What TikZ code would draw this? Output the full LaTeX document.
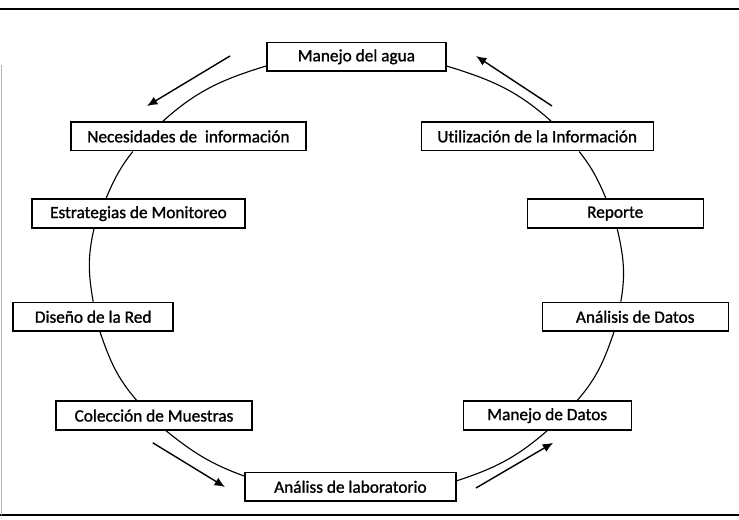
\documentclass[tikz,border=0pt]{standalone}
\usepackage{fontspec}
\setmainfont{Carlito}
\newfontfamily\boxfont[FakeBold=1.2,Ligatures=NoCommon]{Carlito}
\usetikzlibrary{arrows.meta}

\begin{document}
\begin{tikzpicture}[box/.style={draw, line width=1pt, minimum height=.72cm, inner sep=0pt, fill=white, font=\boxfont\fontsize{12.3}{14}\selectfont},
  cyc/.style={line width=.8pt}, flow/.style={line width=1pt, -{Latex[length=2.6mm,width=2.2mm]}}]
\useasboundingbox (0,0) rectangle (18.475,13);
\draw[line width=.8pt] (0,12.775)--(18.475,12.775);
\draw[line width=.8pt] (0,.125)--(18.475,.125);
\draw[gray!60] (.03,11.375)--(.03,.125);
\node[box, minimum width=4.475cm] (agua) at (8.91,11.58) {Manejo del agua};
\node[box, minimum width=5.875cm] (nec) at (4.71,9.59) {Necesidades de \ informaci\'on};
\node[box, minimum width=5.8cm] (util) at (13.43,9.59) {Utilizaci\'on de la Informaci\'on};
\node[box, minimum width=5.33cm] (est) at (3.46,7.66) {Estrategias de Monitoreo};
\node[box, minimum width=4.4cm] (rep) at (15.38,7.66) {Reporte};
\node[box, minimum width=4cm] (dis) at (2.33,5.08) {Dise\~no de la Red};
\node[box, minimum width=4.65cm] (anal) at (15.88,5.08) {An\'alisis de Datos};
\node[box, minimum width=4.9cm] (col) at (3.85,2.61) {Colecci\'on de Muestras};
\node[box, minimum width=4.2cm] (mdat) at (13.68,2.61) {Manejo de Datos};
\node[box, minimum width=5.28cm] (lab) at (8.76,.83) {An\'aliss de laboratorio};
\draw[cyc] ([yshift=-.23cm]agua.west) to[out=197,in=42] ([xshift=-.64cm]nec.north);
\draw[cyc] ([xshift=-1.39cm]nec.south) to[out=232,in=67] ([xshift=-.81cm]est.north);
\draw[cyc] ([xshift=-1.11cm]est.south) to[out=257,in=100] (dis.north);
\draw[cyc] ([xshift=.17cm]dis.south) to[out=289,in=131] ([xshift=-.43cm]col.north);
\draw[cyc] ([xshift=.3cm]col.south) to[out=321,in=160] ([yshift=.27cm]lab.west);
\draw[cyc] ([yshift=-.23cm]agua.east) to[out=343,in=138] ([xshift=.35cm]util.north);
\draw[cyc] ([xshift=1.05cm]util.south) to[out=308,in=113] ([xshift=-.23cm]rep.north);
\draw[cyc] ([xshift=.05cm]rep.south) to[out=283,in=80] ([xshift=-.36cm]anal.north);
\draw[cyc] ([xshift=-.53cm]anal.south) to[out=251,in=49] ([xshift=.75cm]mdat.north);
\draw[cyc] (mdat.south) to[out=221,in=18] ([yshift=.15cm]lab.east);
\coordinate (a1) at (5.75,11.6);
\coordinate (b1) at (3.675,10.35);
\coordinate (a2) at (13.8,10.35);
\coordinate (b2) at (11.9,11.6);
\coordinate (a3) at (3.82,1.93);
\coordinate (b3) at (5.625,.825);
\coordinate (a4) at (11.9,.8);
\coordinate (b4) at (13.83,1.93);
\draw[flow] (a1)--(b1);
\draw[flow] (a2)--(b2);
\draw[flow] (a3)--(b3);
\draw[flow] (a4)--(b4);
\end{tikzpicture}
\end{document}
